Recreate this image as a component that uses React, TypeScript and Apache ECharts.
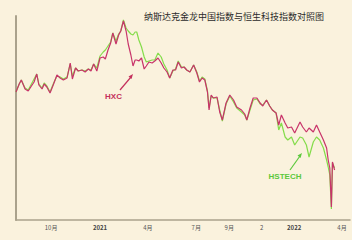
import React, { useEffect, useRef } from "react";
import * as echarts from "echarts";

// day offsets from 2020-07-27
const days = [
  0, 6, 10, 17, 23, 29, 34, 39, 43, 49, 53, 58, 64, 70, 77, 83, 89, 96, 102, 106,
  112, 117, 124, 130, 136, 141, 146, 152, 158, 164, 168, 173, 178, 182, 188, 193, 197, 202, 207, 211,
  216, 220, 224, 227, 231, 236, 241, 245, 250, 256, 261, 267, 273, 278, 284, 289, 295, 300, 305, 311,
  316, 321, 327, 334, 340, 345, 350, 355, 360, 363, 367, 371, 378, 383, 388, 395, 402, 409, 415, 424,
  430, 434, 440, 446, 453, 459, 464, 471, 477, 482, 489, 494, 499, 506, 511, 518, 524, 534, 539, 546,
  551, 559, 565, 571, 578, 584, 587, 590, 593, 595, 599,
];

const hxc = [
  128, 136, 140, 131, 129, 134, 138, 146, 135, 131,
  136, 133, 127, 135, 145, 142, 140, 142, 157, 141,
  152, 149, 150, 148, 151, 149, 156, 149, 162, 163,
  161, 170, 177, 187, 176, 185, 189, 199, 189, 176,
  165, 154, 160, 160, 159, 162, 151, 154, 158, 157,
  159, 162, 157, 152, 148, 142, 150, 150, 158, 152,
  153, 150, 148, 155, 147, 138, 142, 140, 128, 110,
  125, 122, 123, 108, 100, 117, 125, 120, 113, 110,
  106, 100, 112, 122, 122, 117, 114, 120, 114, 110,
  107, 95, 105, 97, 92, 93, 87, 98, 93, 88,
  92, 88, 95, 88, 80, 72, 60, 52, 13, 58, 50,
];

const hstech = [
  128, 136, 140, 132, 130, 136, 141, 146, 136, 132,
  137, 134, 128, 136, 144, 143, 141, 143, 156, 144,
  152, 149, 150, 149, 151, 150, 156, 152, 164, 168,
  170, 174, 178, 187, 179, 186, 189, 200, 192, 189,
  186, 185, 188, 188, 180, 173, 163, 158, 159, 160,
  160, 167, 163, 156, 150, 142, 149, 151, 159, 153,
  153, 150, 148, 155, 148, 139, 143, 141, 129, 112,
  124, 122, 122, 110, 99, 116, 124, 118, 112, 108,
  105, 100, 110, 120, 121, 116, 115, 120, 114, 110,
  107, 90, 97, 83, 80, 83, 75, 83, 82, 75,
  63, 78, 83, 80, 72, 60, 53, 45, 11, 57, 52,
];

const tickDays = [66, 158, 248, 339, 401, 462, 523, 613];
const tickLabels = ["10月", "2021", "4月", "7月", "9月", "2", "2022", "4月"];

const RED = "#c8346a";
const GREEN = "#84dc4a";

export default function App() {
  const ref = useRef<HTMLDivElement>(null);
  useEffect(() => {
    if (!ref.current) return;
    const chart = echarts.init(ref.current, null, { renderer: "svg" });
    const axisColor = "#aaa28c";
    chart.setOption({
      animation: false,
      backgroundColor: "#faf2dd",
      textStyle: { fontFamily: "Noto Sans CJK SC" },
      title: {
        text: "纳斯达克金龙中国指数与恒生科技指数对照图",
        left: 139,
        top: 7,
        textStyle: { fontSize: 9, fontWeight: "normal", color: "#2a2a2a", fontFamily: "Noto Sans CJK SC" },
      },
      grid: { left: 16, right: 2, top: 16, bottom: 20 },
      xAxis: {
        type: "value",
        min: 0,
        max: 628,
        axisLine: { show: true, lineStyle: { color: axisColor, width: 1.5 } },
        axisTick: { show: false },
        splitLine: { show: false },
        axisLabel: {
          customValues: tickDays,
          margin: 4,
          fontSize: 6,
          color: "#555",
          formatter: (v: number) => {
            const i = tickDays.indexOf(v);
            if (i < 0) return "";
            const t = tickLabels[i];
            return /^\d{4}$/.test(t) ? "{b|" + t + "}" : t;
          },
          rich: { b: { fontSize: 6, fontWeight: "bold", color: "#444" } },
        },
      },
      yAxis: {
        type: "value",
        min: 0,
        max: 204,
        axisLine: { show: true, lineStyle: { color: axisColor, width: 2 } },
        axisTick: { show: false },
        axisLabel: { show: false },
        splitLine: { show: false },
      },
      series: [
        {
          name: "HSTECH",
          type: "line",
          data: days.map((d, i) => [d, hstech[i]]),
          showSymbol: false,
          lineStyle: { color: GREEN, width: 1.2 },
          itemStyle: { color: GREEN },
        },
        {
          name: "HXC",
          type: "line",
          data: days.map((d, i) => [d, hxc[i]]),
          showSymbol: false,
          lineStyle: { color: RED, width: 1.2 },
          itemStyle: { color: RED },
        },
      ],
      graphic: [
        {
          type: "text",
          x: 113.5,
          y: 96,
          style: { text: "HXC", fill: "#c4305c", font: "bold 8px Liberation Sans", align: "center", verticalAlign: "middle" },
        },
        { type: "line", shape: { x1: 120, y1: 90, x2: 131, y2: 77 }, style: { stroke: "#c4305c", lineWidth: 1.2 } },
        { type: "polygon", shape: { points: [[133, 74], [128.5, 76.5], [131.5, 79]] }, style: { fill: "#c4305c" } },
        {
          type: "text",
          x: 285,
          y: 176.5,
          style: { text: "HSTECH", fill: "#5cc83c", font: "bold 8px Liberation Sans", align: "center", verticalAlign: "middle" },
        },
        { type: "line", shape: { x1: 290, y1: 170, x2: 300, y2: 156 }, style: { stroke: "#5cc83c", lineWidth: 1.2 } },
        { type: "polygon", shape: { points: [[302, 153], [297.5, 155.5], [300.5, 158]] }, style: { fill: "#5cc83c" } },
      ],
    });
    return () => chart.dispose();
  }, []);
  return (
    <div
      ref={ref}
      style={{ position: "fixed", left: 0, top: 0, width: 352, height: 240 }}
    />
  );
}
